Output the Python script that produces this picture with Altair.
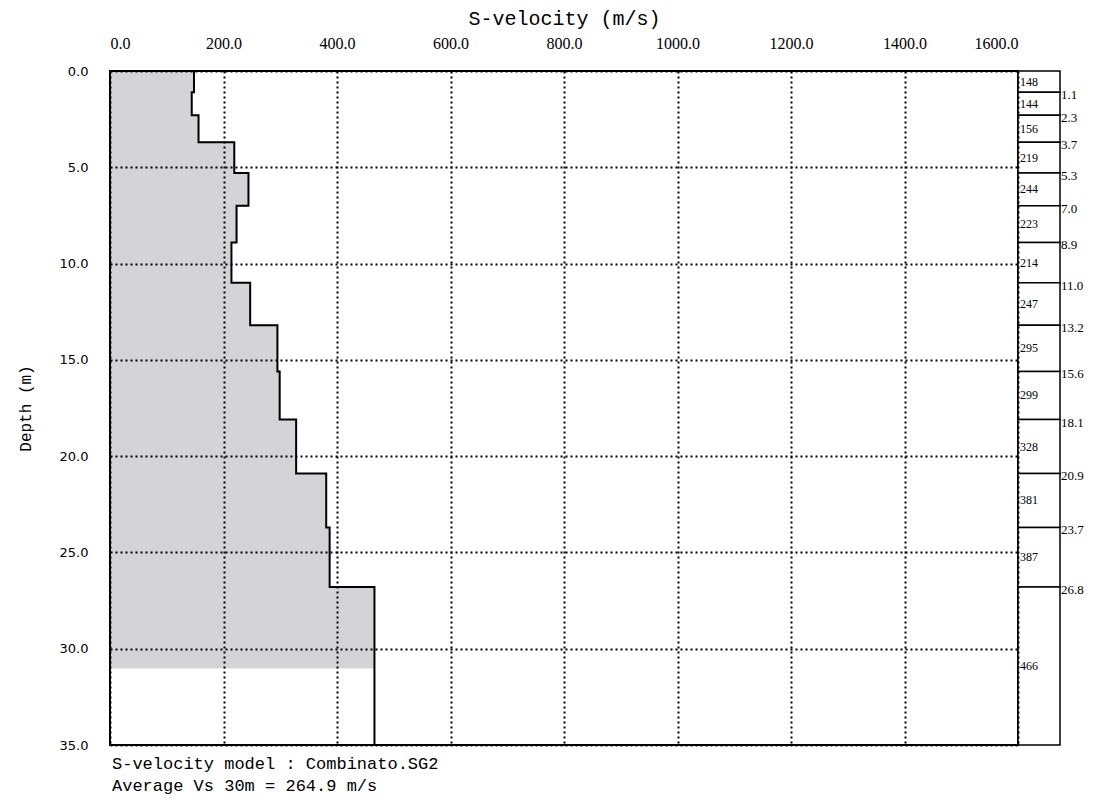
import altair as alt
import pandas as pd

# Layer model
vs = [148, 144, 156, 219, 244, 223, 214, 247, 295, 299, 328, 381, 387, 466]
boundaries = [1.1, 2.3, 3.7, 5.3, 7.0, 8.9, 11.0, 13.2, 15.6, 18.1, 20.9, 23.7, 26.8]
max_depth = 35.0
fill_depth = 31.0
x_ticks = [0, 200, 400, 600, 800, 1000, 1200, 1400, 1600]
y_ticks = [0, 5, 10, 15, 20, 25, 30, 35]
model_name = "Combinato.SG2"
avg_vs30 = 264.9

tops = [0.0] + boundaries
bottoms = boundaries + [max_depth]

layers = pd.DataFrame({
    "vs": vs,
    "top": tops,
    "bottom": bottoms,
    "fill_bottom": [min(b, fill_depth) for b in bottoms],
    "mid": [(t + b) / 2 for t, b in zip(tops, bottoms)],
    "label": [str(v) for v in vs],
})

prof_rows = []
k = 0
for v, t, b in zip(vs, tops, bottoms):
    prof_rows.append({"vs": v, "depth": t, "o": k}); k += 1
    prof_rows.append({"vs": v, "depth": b, "o": k}); k += 1
profile = pd.DataFrame(prof_rows)

bnd = pd.DataFrame({"depth": boundaries, "label": [f"{b:.1f}" for b in boundaries]})

W, H = 908, 674
MONO = "Liberation Mono"
SERIF = "Liberation Serif"
FILL = "#d3d3d8"

xs = alt.Scale(domain=[0, 1600], nice=False, zero=False)
ys = alt.Scale(domain=[0, max_depth], reverse=True, nice=False, zero=False)

xaxis = alt.Axis(orient="top", values=x_ticks, format=".1f", title="S-velocity (m/s)",
                 grid=True, gridColor="black", gridDash=[2, 3], gridWidth=2,
                 ticks=False, domain=False, labelFont=SERIF, labelFontSize=16,
                 labelColor="black", labelPadding=20, titleFont=MONO, titleFontSize=20,
                 titleFontWeight="normal", titleColor="black", titlePadding=7, zindex=1)
yaxis = alt.Axis(values=y_ticks, format=".1f", title="Depth (m)",
                 grid=True, gridColor="black", gridDash=[2, 3], gridWidth=2,
                 ticks=False, domain=False, labelFont="DejaVu Sans", labelFontSize=13,
                 labelFontWeight="normal", labelColor="black", labelPadding=22,
                 titleFont=MONO, titleFontSize=16, titleFontWeight="normal",
                 titleColor="black", titlePadding=26, zindex=1)

base_layers = alt.Chart(layers)

fill = base_layers.mark_rect(color=FILL, stroke=FILL, strokeWidth=1).encode(
    x=alt.X("zero:Q", scale=xs, axis=xaxis),
    x2="vs:Q",
    y=alt.Y("top:Q", scale=ys, axis=yaxis),
    y2="fill_bottom:Q",
).transform_calculate(zero="0")

line = alt.Chart(profile).mark_line(color="black", strokeWidth=2).encode(
    x=alt.X("vs:Q", scale=xs, axis=xaxis),
    y=alt.Y("depth:Q", scale=ys, axis=None),
    order="o:Q",
)

border = alt.Chart(pd.DataFrame({"b": [0]})).mark_rect(
    fill=None, stroke="black", strokeWidth=2
).encode(
    x=alt.value(0), x2=alt.value(W), y=alt.value(0), y2=alt.value(H)
)

col_box = base_layers.mark_rect(fill="white", stroke="black", strokeWidth=1.5).encode(
    x=alt.value(W),
    x2=alt.value(W + 42),
    y=alt.Y("top:Q", scale=ys, axis=None),
    y2="bottom:Q",
)

col_vs = base_layers.mark_text(align="left", baseline="middle", font=SERIF,
                                fontSize=12, color="black").encode(
    x=alt.value(W + 2),
    y=alt.Y("mid:Q", scale=ys, axis=None),
    text="label:N",
)

col_depth = alt.Chart(bnd).mark_text(align="left", baseline="middle", font=SERIF,
                                      fontSize=13, color="black", dy=3).encode(
    x=alt.value(W + 43),
    y=alt.Y("depth:Q", scale=ys, axis=None),
    text="label:N",
)

notes = pd.DataFrame({
    "t": [f"S-velocity model : {model_name}", f"Average Vs 30m = {avg_vs30:.1f} m/s"],
    "i": [0, 1],
})
note_text = alt.Chart(notes).mark_text(align="left", baseline="alphabetic", font=MONO,
                                        fontSize=17, color="black").encode(
    x=alt.value(2),
    y=alt.Y("i:Q", scale=alt.Scale(domain=[0, 1], range=[H + 24, H + 46]), axis=None),
    text="t:N",
)

chart = alt.layer(fill, line, border, col_box, col_vs, col_depth, note_text).resolve_scale(
    y="independent"
).properties(
    width=W, height=H,
    autosize=alt.AutoSizeParams(type="none"),
    padding={"left": 102, "top": 63, "right": 70, "bottom": 50},
).configure_view(
    stroke=None
).configure(background="white")

chart.save("out.html", embed_options={"renderer": "svg", "actions": False})
